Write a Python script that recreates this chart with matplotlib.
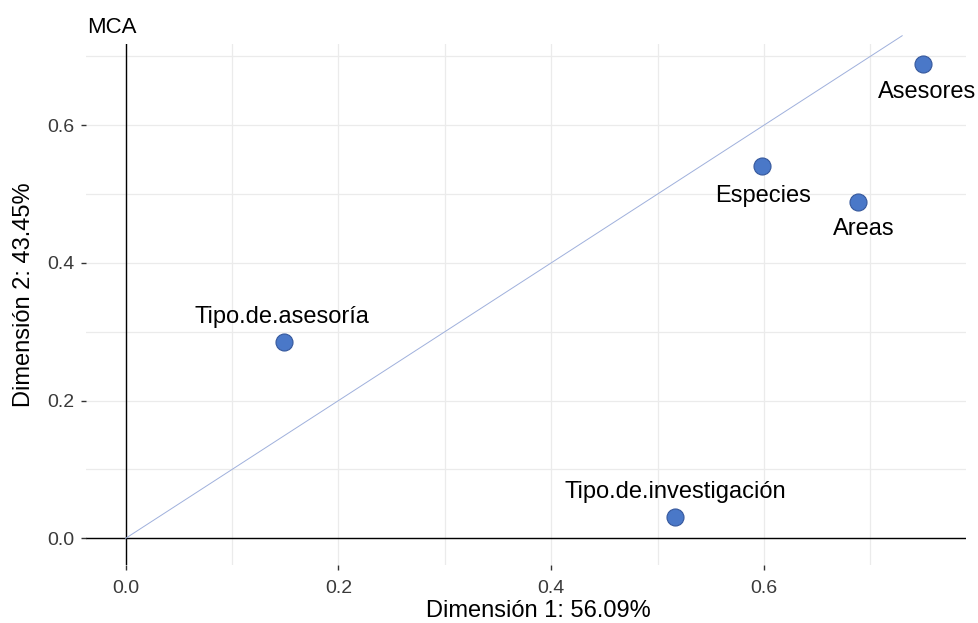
import matplotlib
matplotlib.use("Agg")
import matplotlib.pyplot as plt
import numpy as np

plt.rcParams['font.family'] = ['Liberation Sans', 'DejaVu Sans']

# Data
labels = ["Asesores", "Especies", "Areas", "Tipo.de.asesoría", "Tipo.de.investigación"]
dim1 = [0.750, 0.598, 0.688, 0.149, 0.516]
dim2 = [0.689, 0.541, 0.489, 0.285, 0.031]
xticks = [0.0, 0.2, 0.4, 0.6]
yticks = [0.0, 0.2, 0.4, 0.6]
diag_end = 0.73

# label offsets (pixels, up positive), layout only
offsets = {"Asesores": (4, -34), "Especies": (1, -36), "Areas": (6, -33),
           "Tipo.de.asesoría": (-2, 19), "Tipo.de.investigación": (1, 19)}

fig = plt.figure(figsize=(9.79, 6.23), dpi=100)
ax = fig.add_axes([86/979, 1-565/623, (966-86)/979, (565-44)/623])
ax.set_xlim(-0.0373, 0.790)
ax.set_ylim(-0.0388, 0.718)

for s in ax.spines.values():
    s.set_visible(False)

grid_vals = np.arange(0.0, 0.75, 0.1)
for g in grid_vals:
    ax.axvline(g, color='#ebebeb', lw=0.9, zorder=0)
    ax.axhline(g, color='#ebebeb', lw=0.9, zorder=0)

ax.axhline(0, color='black', lw=1.0, zorder=1)
ax.axvline(0, color='black', lw=1.0, zorder=1)

ax.plot([0, diag_end], [0, diag_end], color='#9fb0dc', lw=0.7, zorder=2, clip_on=False)

ax.scatter(dim1, dim2, s=150, color='#4A78C8', edgecolors='#36589c', linewidths=0.8, zorder=3)

for lab, x, y in zip(labels, dim1, dim2):
    dx, dy = offsets[lab]
    ax.annotate(lab, (x, y), xytext=(dx, dy), textcoords='offset pixels',
                ha='center', va='baseline', fontsize=17, color='black', zorder=4)

ax.set_xticks(xticks)
ax.set_yticks(yticks)
ax.set_xticklabels([f"{v:.1f}" for v in xticks])
ax.set_yticklabels([f"{v:.1f}" for v in yticks])
ax.tick_params(axis='both', length=3.5, width=1.0, color='#333333',
               labelcolor='#3a3a3a', labelsize=14)
ax.tick_params(axis='x', pad=7)
ax.tick_params(axis='y', pad=5)

fig.text(538.5/979, 1-617/623, "Dimensión 1: 56.09%", ha='center', va='baseline', fontsize=17)
fig.text(24/979, 1-295/623, "Dimensión 2: 43.45%", ha='center', va='center', rotation=90, fontsize=17)
fig.text(87/979, 1-33/623, "MCA", ha='left', va='baseline', fontsize=16)

fig.savefig("out.png", dpi=100)
